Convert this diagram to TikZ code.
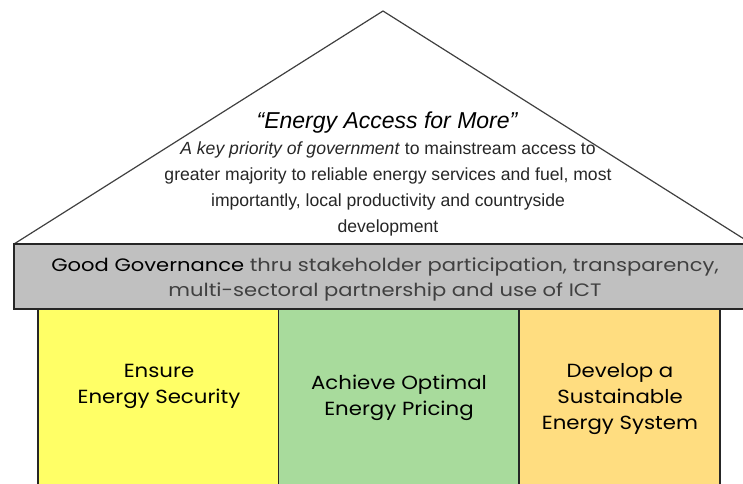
\documentclass[tikz,border=0pt]{standalone}
\usepackage{fontspec}
\setmainfont{Liberation Sans}
\newfontfamily\gothic[FakeStretch=1.12]{Poppins}
\newfontfamily\gothicwide[FakeStretch=1.17]{Poppins}
\definecolor{roofline}{HTML}{404040}
\definecolor{barfill}{HTML}{C0C0C0}
\definecolor{pilyellow}{HTML}{FFFF66}
\definecolor{pilgreen}{HTML}{A8DB9C}
\definecolor{pilorange}{HTML}{FFDD80}

\begin{document}
\begin{tikzpicture}[x=1pt,y=-1pt,
    outline/.style={draw=black!85,line width=1.4pt},
    pillar/.style={outline,minimum width=241pt,minimum height=180pt,inner sep=0pt},
    pillartext/.style={align=center,font=\gothic\fontsize{19}{26}\selectfont,text=black}]

      \clip (0,0) rectangle (743,483);

      \coordinate (apex)  at (383,11);
      \coordinate (eaveL) at (14,244);
      \coordinate (eaveR) at (752,244);
      \draw[roofline,line width=1.2pt] (eaveL) -- (apex) -- (eaveR);

      \node[align=center,font=\itshape\fontsize{23}{26}\selectfont] (motto) at (387,123)
        {\textquotedblleft Energy Access for More\textquotedblright};
      \node[align=center,text=black!85,font=\fontsize{17.6}{26}\selectfont] (priority) at (388,189)
        {\textit{A key priority of government} to mainstream access to\\
         greater majority to reliable energy services and fuel, most\\
         importantly, local productivity and countryside\\
         development};

      \node[outline,fill=barfill,minimum width=738pt,minimum height=65pt,inner sep=0pt] (gov) at (383,276.5) {};
      \node[align=center,text=black!75,font=\gothicwide\fontsize{18}{25}\selectfont] (govtext) at (385,279)
        {\textcolor{black}{Good Governance} thru stakeholder participation, transparency,\\
         multi-sectoral partnership and use of ICT};

      \begin{scope}[every node/.style={pillar}]
        \node[fill=pilyellow] (security) at (158.5,399) {};
        \node[fill=pilgreen]  (pricing)  at (399,399)   {};
        \node[fill=pilorange,minimum width=201pt] (system) at (619.5,399) {};
      \end{scope}

      \begin{scope}[every node/.style={pillartext}]
        \node (securitytext) at (159,386) {Ensure\\Energy Security};
        \node (pricingtext)  at (399,398) {Achieve Optimal\\Energy Pricing};
        \node (systemtext)   at (620,399) {Develop a\\Sustainable\\Energy System};
      \end{scope}

    \end{tikzpicture}
\end{document}
